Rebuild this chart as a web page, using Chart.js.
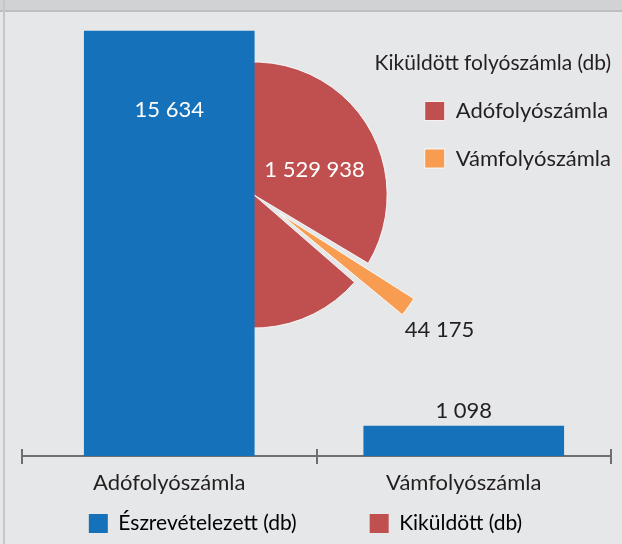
<!DOCTYPE html>
<html>
<head>
<meta charset="utf-8">
<script src="https://cdn.jsdelivr.net/npm/chart.js@4/dist/chart.umd.min.js"></script>
<style>
  body { margin: 0; background: #e6e7e9; }
  #wrap { position: relative; width: 622px; height: 544px; overflow: hidden; background: #e6e7e9; }
  #strip { position: absolute; left: 0; top: 0; width: 622px; height: 10px; background: #d1d2d4; border-bottom: 2px solid #bdbec0; }
  #edge { position: absolute; left: 3px; top: 0; width: 2px; height: 544px; background: #c6c7c9; }
  #pie { position: absolute; left: 0; top: 0; }
  #bars { position: absolute; left: 0; top: 0; }
</style>
</head>
<body>
<div id="wrap">
  <div id="strip"></div>
  <div id="edge"></div>
  <canvas id="pie" width="657" height="544"></canvas>
  <canvas id="bars" width="622" height="544"></canvas>
</div>
<script>
// bar part: Észrevételezett (db)
const categories = ['Adófolyószámla', 'Vámfolyószámla'];
const noticed = [15634, 1098];
// pie part: Kiküldött folyószámla (db)
const sentLabels = ['Adófolyószámla', 'Vámfolyószámla'];
const sent = [1529938, 44175];
const legendLabels = ['Észrevételezett (db)', 'Kiküldött (db)'];
const pieTitle = 'Kiküldött folyószámla (db)';

const BLUE = '#1572ba';
const RED = '#c0504f';
const ORANGE = '#f89c52';
const TEXT = '#231f20';
const AXIS = '#6f6f72';
const FONT = 'Lato';

Chart.defaults.font.family = FONT;
Chart.defaults.color = TEXT;
Chart.defaults.animation = false;

// numbers like 1 529 938
function fmt(n) {
    return String(n).replace(/\B(?=(\d{3})+(?!\d))/g, ' ')
}

// value labels on the bars
const barLabels = {
    id: 'barLabels',
    afterDatasetsDraw(chart) {
        const ctx = chart.ctx
        ctx.save()
        ctx.font = '22px ' + FONT
        ctx.textAlign = 'center'
        ctx.textBaseline = 'middle'
        chart.data.datasets.forEach((ds, d) => {
            chart.getDatasetMeta(d).data.forEach((bar, i) => {
                const v = ds.data[i]
                if (v == null) return
                // tall bar gets the label inside, short one above
                if (bar.base - bar.y > 100) {
                    ctx.fillStyle = '#ffffff'
                    ctx.fillText(fmt(v), bar.x, bar.y + 79)
                } else {
                    ctx.fillStyle = TEXT
                    ctx.fillText(fmt(v), bar.x, bar.y - 15)
                }
            })
        })
        ctx.restore()
    }
}

// tick marks crossing the axis line (upper halves)
const axisTicks = {
    id: 'axisTicks',
    afterDraw(chart) {
        const x = chart.scales.x
        const area = chart.chartArea
        const half = (x.getPixelForValue(1) - x.getPixelForValue(0)) / 2
        const ctx = chart.ctx
        ctx.save()
        ctx.strokeStyle = AXIS
        ctx.lineWidth = 2
        for (let i = 0; i <= categories.length; i++) {
            const px = Math.round(x.getPixelForValue(0) - half + i * half * 2)
            ctx.beginPath()
            ctx.moveTo(px, area.bottom - 7)
            ctx.lineTo(px, area.bottom)
            ctx.stroke()
        }
        ctx.restore()
    }
}

// value labels for the pie slices + title above the pie legend
const pieLabels = {
    id: 'pieLabels',
    afterDraw(chart) {
        const ctx = chart.ctx
        const arcs = chart.getDatasetMeta(0).data
        ctx.save()
        ctx.font = '22px ' + FONT
        ctx.textAlign = 'center'
        ctx.textBaseline = 'middle'
        // big slice: label placed right of the bar, inside the red area
        const a0 = arcs[0]
        const ang0 = -22 * Math.PI / 180
        ctx.fillStyle = '#ffffff'
        ctx.fillText(fmt(sent[0]), a0.x + a0.outerRadius * 0.49 * Math.cos(ang0), a0.y + a0.outerRadius * 0.49 * Math.sin(ang0) - 1)
        // small exploded slice: label beyond its tip
        const a1 = arcs[1]
        const mid = (a1.startAngle + a1.endAngle) / 2
        const dist = a1.outerRadius + 96
        ctx.fillStyle = TEXT
        ctx.fillText(fmt(sent[1]), a1.x + dist * Math.cos(mid), a1.y + dist * Math.sin(mid))
        // legend title, right aligned with the legend entries
        const boxes = chart.legend.legendHitBoxes
        const right = Math.max(...boxes.map(b => b.left + b.width))
        ctx.font = '21px ' + FONT
        ctx.textAlign = 'right'
        ctx.fillText(pieTitle, right, boxes[0].top - 37)
        ctx.restore()
    }
}

new Chart(document.getElementById('pie'), {
    type: 'pie',
    data: {
        labels: sentLabels,
        datasets: [{
            data: sent,
            backgroundColor: [RED, ORANGE],
            borderColor: 'rgba(255,255,255,0.85)',
            borderWidth: 1,
            offset: [0, 126],
            clip: false
        }]
    },
    options: {
        responsive: false,
        rotation: 131,
        radius: 133,
        layout: { padding: { left: 109, top: 74.5, right: 36, bottom: 228.5 } },
        plugins: {
            tooltip: { enabled: false },
            legend: {
                position: 'right',
                align: 'start',
                labels: {
                    boxWidth: 20,
                    boxHeight: 19,
                    padding: 25.5,
                    color: TEXT,
                    font: { size: 22 }
                }
            }
        }
    },
    plugins: [pieLabels]
});

new Chart(document.getElementById('bars'), {
    type: 'bar',
    data: {
        labels: categories,
        datasets: [
            {
                label: legendLabels[0],
                data: noticed.map((v, i) => i === 0 ? v : null),
                backgroundColor: BLUE,
                barThickness: 170,
                grouped: false
            },
            {
                label: legendLabels[0],
                data: noticed.map((v, i) => i === 1 ? v : null),
                backgroundColor: BLUE,
                barThickness: 200,
                grouped: false
            }
        ]
    },
    options: {
        responsive: false,
        layout: { padding: { left: 0, right: 11, top: 20, bottom: 0 } },
        scales: {
            x: {
                offset: true,
                grid: { offset: true, drawOnChartArea: false, tickLength: 8, color: AXIS, lineWidth: 2 },
                border: { color: AXIS, width: 2 },
                ticks: { color: TEXT, font: { size: 22, lineHeight: 1 }, padding: 8 },
                // keeps the plot 22px from the left edge while the legend stays centred on the page
                afterFit: (scale) => { scale.paddingLeft = 22 }
            },
            y: { display: false, min: 0, max: 16040 }
        },
        plugins: {
            tooltip: { enabled: false },
            legend: {
                position: 'bottom',
                labels: {
                    boxWidth: 19,
                    boxHeight: 19,
                    padding: 11,
                    color: TEXT,
                    font: { size: 21 },
                    // one entry per colour; the blank middle item only widens the gap
                    generateLabels: () => [
                        { text: legendLabels[0], fillStyle: BLUE, strokeStyle: BLUE, lineWidth: 0 },
                        { text: '\u00a0\u00a0\u00a0\u00a0', fillStyle: 'rgba(0,0,0,0)', strokeStyle: 'rgba(0,0,0,0)', lineWidth: 0 },
                        { text: legendLabels[1], fillStyle: RED, strokeStyle: RED, lineWidth: 0 }
                    ]
                }
            }
        }
    },
    plugins: [barLabels, axisTicks]
});
</script>
</body>
</html>
